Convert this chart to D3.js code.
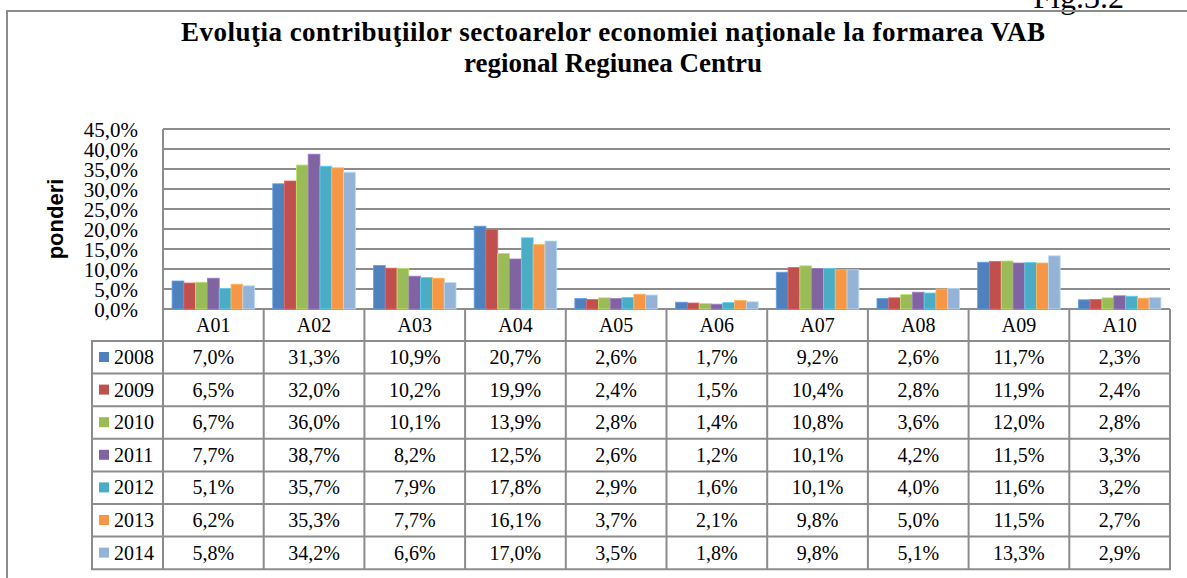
<!DOCTYPE html>
<html>
<head>
<meta charset="utf-8">
<script src="https://cdn.jsdelivr.net/npm/d3@7"></script>
<style>
  html, body { margin: 0; padding: 0; background: #fff; }
  svg text { font-family: "Times New Roman", "Liberation Serif", serif; fill: #000; }
</style>
</head>
<body>
<div id="chart"></div>
<script>
// sectors (categories)
const categories = ['A01', 'A02', 'A03', 'A04', 'A05', 'A06', 'A07', 'A08', 'A09', 'A10'];
const years = ['2008', '2009', '2010', '2011', '2012', '2013', '2014'];

// shares by year, %
const v2008 = [7.0, 31.3, 10.9, 20.7, 2.6, 1.7, 9.2, 2.6, 11.7, 2.3];
const v2009 = [6.5, 32.0, 10.2, 19.9, 2.4, 1.5, 10.4, 2.8, 11.9, 2.4];
const v2010 = [6.7, 36.0, 10.1, 13.9, 2.8, 1.4, 10.8, 3.6, 12.0, 2.8];
const v2011 = [7.7, 38.7, 8.2, 12.5, 2.6, 1.2, 10.1, 4.2, 11.5, 3.3];
const v2012 = [5.1, 35.7, 7.9, 17.8, 2.9, 1.6, 10.1, 4.0, 11.6, 3.2];
const v2013 = [6.2, 35.3, 7.7, 16.1, 3.7, 2.1, 9.8, 5.0, 11.5, 2.7];
const v2014 = [5.8, 34.2, 6.6, 17.0, 3.5, 1.8, 9.8, 5.1, 13.3, 2.9];

const yTicks = [0, 5, 10, 15, 20, 25, 30, 35, 40, 45];

const series = [v2008, v2009, v2010, v2011, v2012, v2013, v2014];
const colors = ['#4F81BD', '#C0504D', '#9BBB59', '#8064A2', '#4BACC6', '#F79646', '#95B3D7'];

const W = 1187, H = 578;
const plot = { left: 163, right: 1170, top: 129, bottom: 309 };
const table = { left: 92, rowH: 32.6, bottom: 569 };
const GRID = '#8c8c8c';

const pct = (v) => d3.format('.1f')(v).replace('.', ',') + '%';

const svg = d3.select('#chart').append('svg')
    .attr('width', W)
    .attr('height', H);

svg.append('rect').attr('width', W).attr('height', H).attr('fill', '#fff');

// page label, mostly cut off at the top
svg.append('text')
    .attr('x', 1124)
    .attr('y', 8)
    .attr('text-anchor', 'end')
    .style('font-size', '32px')
    .text('Fig.3.2');

// outer frame
svg.append('rect')
    .attr('x', 7).attr('y', 11)
    .attr('width', 1300).attr('height', 700)
    .attr('fill', 'none')
    .attr('stroke', GRID)
    .attr('stroke-width', 2);

// title
const title = svg.append('text')
    .attr('text-anchor', 'middle')
    .style('font-size', '27px')
    .style('font-weight', 'bold');
title.append('tspan').attr('x', 613).attr('y', 41)
    .attr('textLength', 864)
    .attr('lengthAdjust', 'spacing')
    .text('Evoluţia contribuţiilor sectoarelor economiei naţionale la formarea VAB');
title.append('tspan').attr('x', 613).attr('y', 72)
    .text('regional Regiunea Centru');

// scales
let x = d3.scaleBand()
    .domain(categories)
    .range([plot.left, plot.right])
    .paddingInner(0.18)
    .paddingOuter(0.09);
let xInner = d3.scaleBand()
    .domain(years)
    .range([0, x.bandwidth()]);
let y = d3.scaleLinear()
    .domain([0, 45])
    .range([plot.bottom, plot.top]);

// gridlines
svg.append('g')
    .selectAll('line')
    .data(yTicks)
    .enter()
    .append('line')
    .attr('x1', plot.left)
    .attr('x2', plot.right)
    .attr('y1', (d) => y(d))
    .attr('y2', (d) => y(d))
    .attr('stroke', GRID)
    .attr('stroke-width', 2);

// y axis labels
const yAxis = d3.axisLeft(y).tickValues(yTicks).tickFormat(pct).tickSize(0).tickPadding(0);
const gy = svg.append('g')
    .attr('transform', `translate(${138}, 0)`)
    .call(yAxis);
gy.select('.domain').remove();
gy.selectAll('text')
    .attr('dy', 7)
    .style('font-size', '21px')
    .style('font-family', '"Times New Roman", "Liberation Serif", serif')
    .attr('fill', '#000');

// axis title
svg.append('text')
    .attr('transform', `translate(${63}, ${(plot.top + plot.bottom) / 2}) rotate(-90)`)
    .attr('text-anchor', 'middle')
    .style('font-family', 'Arial, "Liberation Sans", sans-serif')
    .style('font-weight', 'bold')
    .style('font-size', '22px')
    .text('ponderi');

// bars
series.forEach((vals, si) => {
    svg.append('g')
        .selectAll('rect')
        .data(vals)
        .enter()
        .append('rect')
        .attr('x', (d, i) => x(categories[i]) + xInner(years[si]))
        .attr('y', (d) => y(d))
        .attr('width', xInner.bandwidth())
        .attr('height', (d) => y(0) - y(d))
        .attr('fill', colors[si])
        .attr('stroke', d3.color(colors[si]).brighter(0.6))
        .attr('stroke-width', 0.8);
});

// data table
const step = (plot.right - plot.left) / categories.length;
const rowTop = (r) => plot.bottom + 32 + r * table.rowH;

const tg = svg.append('g');

// vertical lines
tg.selectAll('line.v')
    .data(d3.range(categories.length + 1))
    .enter()
    .append('line')
    .attr('x1', (d) => plot.left + d * step)
    .attr('x2', (d) => plot.left + d * step)
    .attr('y1', (d) => d === 0 ? plot.top : plot.bottom)
    .attr('y2', table.bottom)
    .attr('stroke', GRID)
    .attr('stroke-width', 2);

tg.append('line')
    .attr('x1', table.left).attr('x2', table.left)
    .attr('y1', rowTop(0)).attr('y2', table.bottom)
    .attr('stroke', GRID).attr('stroke-width', 2);

// horizontal lines
tg.selectAll('line.h')
    .data(d3.range(years.length + 1))
    .enter()
    .append('line')
    .attr('x1', table.left - 1)
    .attr('x2', plot.right + 1)
    .attr('y1', (d) => rowTop(d))
    .attr('y2', (d) => rowTop(d))
    .attr('stroke', GRID)
    .attr('stroke-width', 2);

// category header
tg.selectAll('text.cat')
    .data(categories)
    .enter()
    .append('text')
    .attr('x', (d, i) => plot.left + (i + 0.5) * step)
    .attr('y', plot.bottom + 23)
    .attr('text-anchor', 'middle')
    .style('font-size', '20px')
    .text((d) => d);

// rows
years.forEach((yr, r) => {
    const top = rowTop(r);
    tg.append('rect')
        .attr('x', 99).attr('y', top + 11)
        .attr('width', 10).attr('height', 10)
        .attr('fill', colors[r]);
    tg.append('text')
        .attr('x', 114).attr('y', top + 23)
        .style('font-size', '20px')
        .text(yr);
    tg.append('g')
        .selectAll('text')
        .data(series[r])
        .enter()
        .append('text')
        .attr('x', (d, i) => plot.left + (i + 0.5) * step)
        .attr('y', top + 23)
        .attr('text-anchor', 'middle')
        .style('font-size', '20px')
        .text((d) => pct(d));
});
</script>
</body>
</html>
